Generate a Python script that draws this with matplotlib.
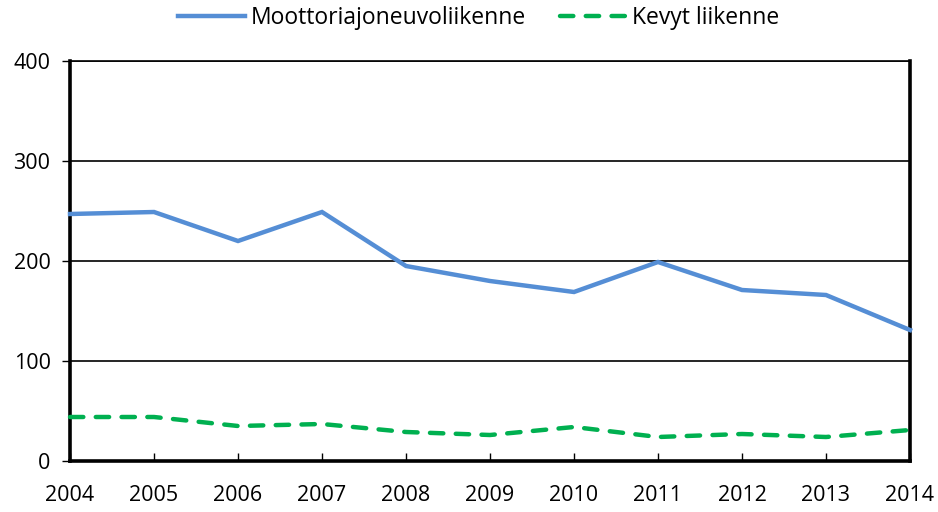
import matplotlib
matplotlib.use("Agg")
import matplotlib.pyplot as plt

years = [2004, 2005, 2006, 2007, 2008, 2009, 2010, 2011, 2012, 2013, 2014]
moottori = [247, 249, 220, 249, 195, 180, 169, 199, 171, 166, 131]
kevyt = [44, 44, 35, 37, 29, 26, 34, 24, 27, 24, 31]
series_names = ["Moottoriajoneuvoliikenne", "Kevyt liikenne"]
yticks = [0, 100, 200, 300, 400]

plt.rcParams['font.family'] = ['Open Sans', 'DejaVu Sans']

fig = plt.figure(figsize=(9.38, 5.12), dpi=100)
ax = fig.add_axes([70/938, 51/512, 840/938, 400/512])

ax.plot(years, moottori, color="#558ED5", lw=3.2, solid_joinstyle="miter",
        label=series_names[0], zorder=3, clip_on=False)
ax.plot(years, kevyt, color="#00B050", lw=3.2, dashes=(3.0, 2.8),
        dash_capstyle="round", label=series_names[1], zorder=3, clip_on=False)

ax.set_xlim(years[0], years[-1])
ax.set_ylim(0, 400)
ax.set_xticks(years)
ax.set_yticks(yticks)
ax.yaxis.grid(True, color="black", lw=1.2)
ax.set_axisbelow(True)
ax.tick_params(axis="x", direction="in", length=6, width=1, labelsize=15.5, pad=17)
ax.tick_params(axis="y", direction="out", length=6, width=1, labelsize=15.5, pad=8)
for s in ["left", "bottom", "right"]:
    ax.spines[s].set_linewidth(2.6)
ax.spines["top"].set_linewidth(1.2)

leg = fig.legend(loc="center", bbox_to_anchor=(479/938, 1 - 18/512), ncol=2,
                 frameon=False, fontsize=16.5, handlelength=2.9,
                 handletextpad=0.25, columnspacing=1.5)

fig.savefig("out.png", dpi=100)
